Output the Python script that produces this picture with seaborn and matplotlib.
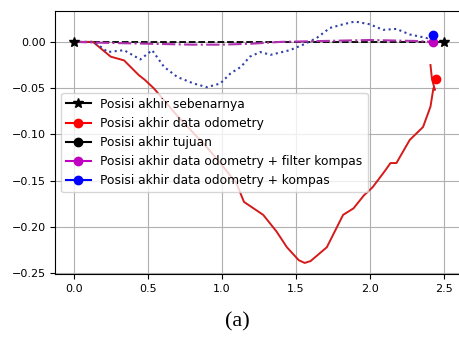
import matplotlib
matplotlib.use("Agg")
import matplotlib.pyplot as plt
from matplotlib.lines import Line2D
import pandas as pd
import seaborn as sns

# path data odometry (red)
odo_x = [0.0, 0.13, 0.25, 0.34, 0.44, 0.48, 0.54, 0.70, 0.90, 1.00, 1.10, 1.15,
         1.28, 1.37, 1.44, 1.52, 1.56, 1.60, 1.71, 1.82, 1.89, 1.96, 2.02, 2.10,
         2.14, 2.18, 2.27, 2.36, 2.41, 2.43, 2.44, 2.42, 2.41]
odo_y = [0.0, 0.0, -0.016, -0.020, -0.036, -0.041, -0.050, -0.080, -0.114, -0.133,
         -0.153, -0.173, -0.187, -0.205, -0.222, -0.236, -0.239, -0.237, -0.222,
         -0.187, -0.180, -0.166, -0.157, -0.140, -0.131, -0.131, -0.106, -0.092,
         -0.070, -0.050, -0.052, -0.040, -0.025]

# path odometry + kompas (blue dotted)
kom_x = [0.0, 0.13, 0.18, 0.23, 0.34, 0.45, 0.53, 0.61, 0.70, 0.81, 0.90, 0.99,
         1.06, 1.13, 1.19, 1.26, 1.33, 1.46, 1.55, 1.64, 1.73, 1.82, 1.90, 2.00,
         2.09, 2.18, 2.27, 2.39, 2.44]
kom_y = [0.0, 0.0, -0.005, -0.011, -0.009, -0.019, -0.009, -0.027, -0.038, -0.045,
         -0.049, -0.045, -0.034, -0.027, -0.016, -0.011, -0.014, -0.009, -0.003,
         0.004, 0.015, 0.019, 0.022, 0.019, 0.013, 0.014, 0.008, 0.004, 0.008]

# path odometry + filter kompas (magenta dash-dot)
fil_x = [0.0, 0.2, 0.5, 0.8, 1.0, 1.2, 1.4, 1.7, 2.0, 2.3, 2.43]
fil_y = [0.0, -0.001, -0.002, -0.003, -0.003, -0.002, 0.0, 0.001, 0.002, 0.001, 0.0]

# reference path (black dashed)
ref_x = [0.0, 2.5]
ref_y = [0.0, 0.0]

# end points
akhir_odo = (2.445, -0.040)
akhir_tujuan = (2.5, 0.0)
akhir_fil = (2.43, 0.0)
akhir_kom = (2.43, 0.0078)

labels = ["Posisi akhir sebenarnya", "Posisi akhir data odometry",
          "Posisi akhir tujuan", "Posisi akhir data odometry + filter kompas",
          "Posisi akhir data odometry + kompas"]

fig, ax = plt.subplots(figsize=(4.6, 3.4), dpi=100)
fig.subplots_adjust(left=0.12, right=1.005, top=0.968, bottom=0.194)

sns.lineplot(x=ref_x, y=ref_y, color="k", linestyle="--", linewidth=1.3,
             sort=False, estimator=None, ax=ax)
sns.lineplot(x=odo_x, y=odo_y, color="#d41a1a", linewidth=1.4,
             sort=False, estimator=None, ax=ax)
sns.lineplot(x=kom_x, y=kom_y, color="#3040a8", linestyle=":", linewidth=1.5,
             sort=False, estimator=None, ax=ax)
sns.lineplot(x=fil_x, y=fil_y, color="#b030b0", linestyle="-.", linewidth=1.5,
             sort=False, estimator=None, ax=ax)

pts = pd.DataFrame({
    "x": [akhir_tujuan[0], akhir_odo[0], akhir_fil[0], akhir_kom[0]],
    "y": [akhir_tujuan[1], akhir_odo[1], akhir_fil[1], akhir_kom[1]],
    "c": ["k", "red", "m", "blue"],
    "s": [3, 6, 6, 6],
})
for _, r in pts.iterrows():
    ax.plot(r["x"], r["y"], "o", color=r["c"], markersize=r["s"], zorder=4)
ax.plot(ref_x, ref_y, "*", color="k", markersize=7, linestyle="none", zorder=5)

ax.set_xlim(-0.125, 2.625)
ax.set_ylim(-0.251, 0.0335)
ax.set_xticks([0.0, 0.5, 1.0, 1.5, 2.0, 2.5])
ax.set_yticks([-0.25, -0.20, -0.15, -0.10, -0.05, 0.00])
ax.tick_params(labelsize=8)
ax.grid(True, color="#b0b0b0", linewidth=0.8)

handles = [
    Line2D([], [], color="k", marker="*", markersize=7),
    Line2D([], [], color="red", marker="o", markersize=6),
    Line2D([], [], color="k", marker="o", markersize=6),
    Line2D([], [], color="m", marker="o", markersize=6),
    Line2D([], [], color="blue", marker="o", markersize=6),
]
ax.legend(handles, labels, loc="center left", fontsize=8.8)

fig.text(0.517, 0.053, "(a)", ha="center", va="center",
         family="Liberation Serif", fontsize=16)

fig.savefig("out.png", dpi=100)
